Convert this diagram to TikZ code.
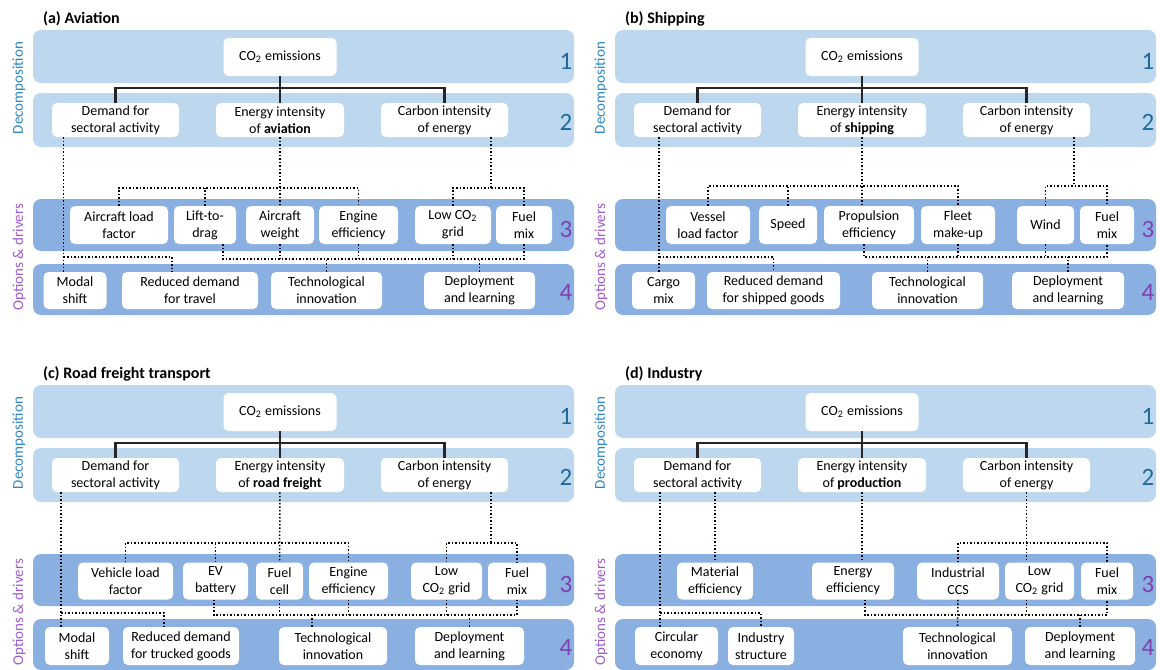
\documentclass[tikz,border=0pt]{standalone}
\usepackage{fontspec}
\setmainfont{Carlito}
\usepackage{xcolor}
\usepackage{tikz}
\definecolor{bandlight}{HTML}{BDD7EE}
\definecolor{banddark}{HTML}{89B0E0}
\definecolor{decblue}{HTML}{2E86BF}
\definecolor{numblue}{HTML}{1F6A9A}
\definecolor{optpurple}{HTML}{A05CCB}
\definecolor{numpurple}{HTML}{8040B0}

\begin{document}
\begin{tikzpicture}[x=0.5pt, y=-0.5pt]
    \tikzstyle{cell} = [rectangle, rounded corners=2.5pt, fill=white, align=center, inner sep=1pt, font=\fontsize{7}{8.5}\selectfont]
    \tikzstyle{tree} = [draw=black!85, line width=1.2pt]
    \tikzstyle{dot} = [draw=black, densely dotted, line width=0.75pt]
    \tikzstyle{level} = [font=\fontsize{12.5}{14}\selectfont]
    \tikzstyle{side} = [rotate=90, font=\fontsize{7.5}{9}\selectfont]
    \useasboundingbox (0,0) rectangle (1160,669);

    % decomposition part, the same in every panel
    \foreach \p/\dx/\dy/\sector/\kind in {a/0/0/Aviation/aviation, b/582/0/Shipping/shipping, c/0/355/Road freight transport/road freight, d/582/355/Industry/production} {
      \begin{scope}[shift={(\dx,\dy)}]
        \fill[bandlight, rounded corners=4pt] (33,30) rectangle (574,83);
        \fill[bandlight, rounded corners=4pt] (33,93) rectangle (574,147);
        \fill[banddark, rounded corners=4pt] (33,199) rectangle (574,251);
        \fill[banddark, rounded corners=4pt] (33,264) rectangle (574,315);
        \node[anchor=west, font=\fontsize{8}{10}\selectfont\bfseries] (\p-title) at (36,19) {(\p) \sector};
        \node[side, text=decblue] (\p-dec) at (19,88) {Decomposition};
        \node[side, text=optpurple] (\p-opt) at (19,257) {Options \& drivers};
        \node[level, text=numblue] (\p-l1) at (566,61) {1};
        \node[level, text=numblue] (\p-l2) at (566,122) {2};
        \node[level, text=numpurple] (\p-l3) at (566,229) {3};
        \node[level, text=numpurple] (\p-l4) at (566,292) {4};
        \node[cell, minimum width=56.5pt, minimum height=19pt] (\p-co2) at (280,57) {CO\textsubscript{2} emissions};
        \node[cell, minimum width=63.5pt, minimum height=17pt] (\p-dem) at (115.5,120) {Demand for\\sectoral activity};
        \node[cell, minimum width=64pt, minimum height=17pt] (\p-ei) at (280,120) {Energy intensity\\of \textbf{\kind}};
        \node[cell, minimum width=63.5pt, minimum height=17pt] (\p-ci) at (444.5,120) {Carbon intensity\\of energy};
        \coordinate (\p-fork) at (280,88);
        \draw[tree] (\p-co2) -- (\p-ei);
        \draw[tree] (\p-dem) |- (\p-fork) -| (\p-ci);
      \end{scope}
    }

    % (a) aviation
    \node[cell, minimum width=49pt, minimum height=19pt] (a-load) at (119,225) {Aircraft load\\factor};
    \node[cell, minimum width=31pt, minimum height=19pt] (a-lift) at (205,225) {Lift-to-\\drag};
    \node[cell, minimum width=34pt, minimum height=19pt] (a-weight) at (280,225) {Aircraft\\weight};
    \node[cell, minimum width=39.5pt, minimum height=19pt] (a-engine) at (358.5,225) {Engine\\efficiency};
    \node[cell, minimum width=38pt, minimum height=19pt] (a-grid) at (453,225) {Low CO\textsubscript{2}\\grid};
    \node[cell, minimum width=28pt, minimum height=19pt] (a-fuel) at (524,225) {Fuel\\mix};
    \node[cell, minimum width=31.5pt, minimum height=18.5pt] (a-modal) at (75,290.5) {Modal\\shift};
    \node[cell, minimum width=68pt, minimum height=18.5pt] (a-reduced) at (190,290.5) {Reduced demand\\for travel};
    \node[cell, minimum width=55.5pt, minimum height=18.5pt] (a-tech) at (326.5,290.5) {Technological\\innovation};
    \node[cell, minimum width=55.5pt, minimum height=18.5pt] (a-deploy) at (479.5,290.5) {Deployment\\and learning};
    \coordinate (a-up) at (280,188);
    \coordinate (a-upr) at (491,188);
    \coordinate (a-low) at (223,259);
    \coordinate (a-side) at (63.5,257);
    \coordinate (a-sider) at (172,257);
    \draw[dot] (a-ei) -- (a-weight);
    \draw[dot] (a-load) |- (a-up) -| (a-engine);
    \draw[dot] (a-lift) -- (a-lift |- a-up);
    \draw[dot] (a-ci.south -| a-upr) -- (a-upr);
    \draw[dot] (a-grid) |- (a-upr) -| (a-fuel);
    \draw[dot] (a-lift.south -| a-low) -- (a-low) -| (a-fuel);
    \draw[dot] (a-weight) -- (a-weight |- a-low);
    \draw[dot] (a-engine) -- (a-engine |- a-low);
    \draw[dot] (a-grid) -- (a-grid |- a-low);
    \draw[dot] (a-tech) -- (a-tech |- a-low);
    \draw[dot] (a-deploy) -- (a-deploy |- a-low);
    \draw[dot] (a-dem.south -| a-side) -- (a-modal.north -| a-side);
    \draw[dot] (a-side) -- (a-sider) -- (a-reduced.north -| a-sider);

    % (b) shipping
    \node[cell, minimum width=42pt, minimum height=19pt] (b-vessel) at (708,225) {Vessel\\load factor};
    \node[cell, minimum width=29pt, minimum height=19pt] (b-speed) at (788,225) {Speed};
    \node[cell, minimum width=45pt, minimum height=19pt] (b-prop) at (869,225) {Propulsion\\efficiency};
    \node[cell, minimum width=37pt, minimum height=19pt] (b-fleet) at (958,225) {Fleet\\make-up};
    \node[cell, minimum width=28.5pt, minimum height=19pt] (b-wind) at (1045.5,225) {Wind};
    \node[cell, minimum width=27pt, minimum height=19pt] (b-fuel) at (1107,225) {Fuel\\mix};
    \node[cell, minimum width=31.5pt, minimum height=18.5pt] (b-cargo) at (663.5,290.5) {Cargo\\mix};
    \node[cell, minimum width=66.5pt, minimum height=18.5pt] (b-reduced) at (773.5,290.5) {Reduced demand\\for shipped goods};
    \node[cell, minimum width=55.5pt, minimum height=18.5pt] (b-tech) at (927.5,290.5) {Technological\\innovation};
    \node[cell, minimum width=56pt, minimum height=18.5pt] (b-deploy) at (1068,290.5) {Deployment\\and learning};
    \coordinate (b-up) at (862,186);
    \coordinate (b-upr) at (1074,186);
    \coordinate (b-low) at (864,257);
    \coordinate (b-side) at (659,257);
    \draw[dot] (b-ei) -- (b-ei |- b-prop.north);
    \draw[dot] (b-vessel) |- (b-up) -| (b-fleet);
    \draw[dot] (b-speed) -- (b-speed |- b-up);
    \draw[dot] (b-ci.south -| b-upr) -- (b-upr);
    \draw[dot] (b-wind) |- (b-upr) -| (b-fuel);
    \draw[dot] (b-prop.south -| b-low) -- (b-low) -| (b-fuel);
    \draw[dot] (b-fleet) -- (b-fleet |- b-low);
    \draw[dot] (b-wind) -- (b-wind |- b-low);
    \draw[dot] (b-tech) -- (b-tech |- b-low);
    \draw[dot] (b-deploy) -- (b-deploy |- b-low);
    \draw[dot] (b-dem.south -| b-side) -- (b-cargo.north -| b-side);
    \draw[dot] (b-side) -| (b-reduced);

    % (c) road freight
    \node[cell, minimum width=47.5pt, minimum height=18.5pt] (c-vehicle) at (125.5,581) {Vehicle load\\factor};
    \node[cell, minimum width=32.5pt, minimum height=18.5pt] (c-ev) at (215.5,581) {EV\\battery};
    \node[cell, minimum width=23.5pt, minimum height=18.5pt] (c-cell) at (279.5,581) {Fuel\\cell};
    \node[cell, minimum width=39.5pt, minimum height=18.5pt] (c-engine) at (348.5,581) {Engine\\efficiency};
    \node[cell, minimum width=35.5pt, minimum height=18.5pt] (c-grid) at (446.5,581) {Low\\CO\textsubscript{2} grid};
    \node[cell, minimum width=29pt, minimum height=18.5pt] (c-fuel) at (517,581) {Fuel\\mix};
    \node[cell, minimum width=32pt, minimum height=19pt] (c-modal) at (77,646) {Modal\\shift};
    \node[cell, minimum width=58pt, minimum height=19pt] (c-reduced) at (181,646) {Reduced demand\\for trucked goods};
    \node[cell, minimum width=54pt, minimum height=19pt] (c-tech) at (333,646) {Technological\\innovation};
    \node[cell, minimum width=54.5pt, minimum height=19pt] (c-deploy) at (469.5,646) {Deployment\\and learning};
    \coordinate (c-up) at (280,543);
    \coordinate (c-upr) at (491,543);
    \coordinate (c-low) at (214,615);
    \coordinate (c-techin) at (312,615);
    \coordinate (c-side) at (61,613);
    \coordinate (c-sider) at (164,613);
    \draw[dot] (c-ei) -- (c-cell);
    \draw[dot] (c-vehicle) |- (c-up) -| (c-engine);
    \draw[dot] (c-ev) -- (c-ev |- c-up);
    \draw[dot] (c-ci.south -| c-upr) -- (c-upr);
    \draw[dot] (c-grid) |- (c-upr) -| (c-fuel);
    \draw[dot] (c-ev.south -| c-low) -- (c-low) -| (c-fuel);
    \draw[dot] (c-cell) -- (c-cell |- c-low);
    \draw[dot] (c-engine) -- (c-engine |- c-low);
    \draw[dot] (c-grid) -- (c-grid |- c-low);
    \draw[dot] (c-tech.north -| c-techin) -- (c-techin);
    \draw[dot] (c-deploy) -- (c-deploy |- c-low);
    \draw[dot] (c-dem.south -| c-side) -- (c-modal.north -| c-side);
    \draw[dot] (c-side) -- (c-sider) -- (c-reduced.north -| c-sider);

    % (d) industry
    \node[cell, minimum width=38pt, minimum height=18.5pt] (d-material) at (715,581) {Material\\efficiency};
    \node[cell, minimum width=41pt, minimum height=18.5pt] (d-energy) at (853,581) {Energy\\efficiency};
    \node[cell, minimum width=41pt, minimum height=18.5pt] (d-ccs) at (958,581) {Industrial\\CCS};
    \node[cell, minimum width=34.5pt, minimum height=18.5pt] (d-grid) at (1039.5,581) {Low\\CO\textsubscript{2} grid};
    \node[cell, minimum width=26pt, minimum height=18.5pt] (d-fuel) at (1107,581) {Fuel\\mix};
    \node[cell, minimum width=41.5pt, minimum height=19pt] (d-circular) at (676.5,646) {Circular\\economy};
    \node[cell, minimum width=33pt, minimum height=19pt] (d-structure) at (761,646) {Industry\\structure};
    \node[cell, minimum width=54.5pt, minimum height=19pt] (d-tech) at (957.5,646) {Technological\\innovation};
    \node[cell, minimum width=55pt, minimum height=19pt] (d-deploy) at (1080,646) {Deployment\\and learning};
    \coordinate (d-upr) at (1026.5,543);
    \coordinate (d-low) at (865,615);
    \coordinate (d-side) at (660,613);
    \draw[dot] (d-dem.south -| d-material) -- (d-material);
    \draw[dot] (d-ei) -- (d-ei |- d-energy.north);
    \draw[dot] (d-ci) -- (d-ci |- d-grid.north);
    \draw[dot] (d-ccs) |- (d-upr) -| (d-fuel);
    \draw[dot] (d-energy.south -| d-low) -- (d-low) -| (d-fuel);
    \draw[dot] (d-ccs) -- (d-tech);
    \draw[dot] (d-ci |- d-grid.south) -- (d-ci |- d-low);
    \draw[dot] (d-deploy) -- (d-deploy |- d-low);
    \draw[dot] (d-dem.south -| d-side) -- (d-circular.north -| d-side);
    \draw[dot] (d-side) -| (d-structure);
\end{tikzpicture}
\end{document}
